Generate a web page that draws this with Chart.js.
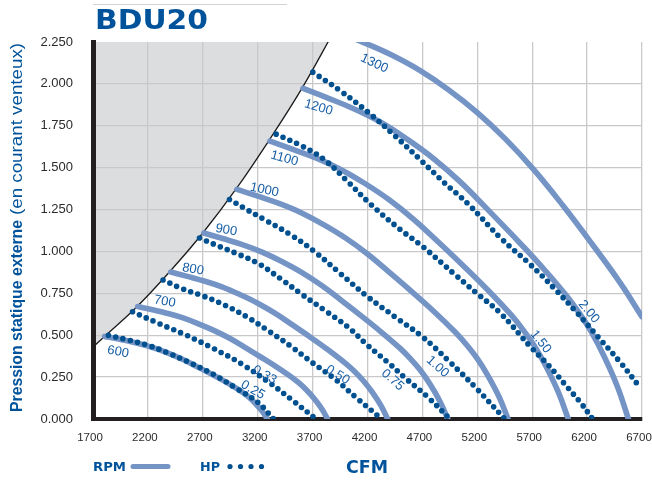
<!DOCTYPE html>
<html>
<head>
<meta charset="utf-8">
<script src="https://cdn.jsdelivr.net/npm/chart.js@4/dist/chart.umd.min.js"></script>
<style>
  html, body { margin: 0; padding: 0; background: #ffffff; }
  #wrap { position: relative; width: 652px; height: 480px; }
  canvas { display: block; }
</style>
</head>
<body>
<div id="wrap"><canvas id="chart" width="652" height="480"></canvas></div>
<script>
// Axis ticks
const cfmTicks = [1700, 2200, 2700, 3200, 3700, 4200, 4700, 5200, 5700, 6200, 6700];
const pressureTicks = [0, 0.25, 0.5, 0.75, 1.0, 1.25, 1.5, 1.75, 2.0, 2.25];

// Operating limit (shaded zone above it)
const limitCurve = [[1700,0.43],[1800,0.49],[2100,0.67],[2400,0.88],[2700,1.11],[3000,1.37],[3300,1.66],[3600,1.97],[3900,2.32]];

// Fan speed curves (CFM, in. w.c.)
const rpmNames = ['600', '700', '800', '900', '1000', '1100', '1200', '1300'];
const rpm600  = [[1806,0.493],[1920,0.479],[2040,0.463],[2160,0.443],[2280,0.418],[2400,0.389],[2520,0.355],[2640,0.315],[2760,0.274],[2880,0.232],[3000,0.186],[3060,0.160],[3120,0.130],[3180,0.092],[3240,0.047],[3288,0]];
const rpm700  = [[2107,0.671],[2240,0.652],[2380,0.630],[2520,0.603],[2660,0.568],[2800,0.529],[2940,0.483],[3080,0.429],[3220,0.373],[3360,0.316],[3500,0.254],[3570,0.218],[3640,0.176],[3710,0.125],[3780,0.064],[3836,0]];
const rpm800  = [[2408,0.877],[2560,0.851],[2720,0.822],[2880,0.787],[3040,0.742],[3200,0.691],[3360,0.630],[3520,0.560],[3680,0.488],[3840,0.413],[4000,0.332],[4080,0.285],[4160,0.230],[4240,0.163],[4320,0.083],[4384,0]];
const rpm900  = [[2709,1.110],[2880,1.077],[3060,1.041],[3240,0.996],[3420,0.940],[3600,0.875],[3780,0.798],[3960,0.709],[4140,0.617],[4320,0.522],[4500,0.420],[4590,0.360],[4680,0.292],[4770,0.207],[4860,0.105],[4932,0]];
const rpm1000 = [[3010,1.370],[3200,1.330],[3400,1.285],[3600,1.230],[3800,1.160],[4000,1.080],[4200,0.985],[4400,0.875],[4600,0.762],[4800,0.645],[5000,0.518],[5100,0.445],[5200,0.360],[5300,0.255],[5400,0.130],[5480,0]];
const rpm1100 = [[3311,1.658],[3520,1.609],[3740,1.555],[3960,1.488],[4180,1.404],[4400,1.307],[4620,1.192],[4840,1.059],[5060,0.922],[5280,0.780],[5500,0.627],[5610,0.538],[5720,0.436],[5830,0.309],[5940,0.157],[6028,0]];
const rpm1200 = [[3612,1.973],[3840,1.915],[4080,1.850],[4320,1.771],[4560,1.670],[4800,1.555],[5040,1.418],[5280,1.260],[5520,1.097],[5760,0.929],[6000,0.746],[6120,0.641],[6240,0.518],[6360,0.367],[6480,0.187],[6576,0]];
const rpm1300 = [[3913,2.315],[4160,2.248],[4420,2.172],[4680,2.079],[4940,1.964],[5200,1.829],[5460,1.669],[5720,1.484],[5980,1.274],[6240,1.049],[6500,0.814],[6700,0.61]];

// Brake horsepower curves
const hpNames = ['0.25', '0.33', '0.50', '0.75', '1.00', '1.50', '2.00'];
const hp025 = [[1840,0.50],[2000,0.475],[2200,0.44],[2400,0.39],[2600,0.33],[2800,0.265],[3000,0.185],[3200,0.10],[3345,0]];
const hp033 = [[2060,0.64],[2300,0.57],[2550,0.50],[2800,0.42],[3050,0.33],[3300,0.22],[3500,0.12],[3730,0]];
const hp050 = [[2338,0.83],[2504,0.78],[2700,0.735],[2900,0.68],[3100,0.61],[3300,0.525],[3500,0.435],[3700,0.335],[3900,0.24],[4111,0.12],[4330,0]];
const hp075 = [[2670,1.08],[2850,1.03],[3000,0.99],[3200,0.93],[3413,0.835],[3600,0.745],[3807,0.65],[4020,0.55],[4201,0.44],[4400,0.33],[4534,0.25],[4750,0.13],[4950,0]];
const hp100 = [[2943,1.31],[3100,1.25],[3262,1.19],[3500,1.10],[3716,1.00],[3950,0.87],[4201,0.73],[4450,0.61],[4701,0.49],[4950,0.34],[5196,0.18],[5450,0]];
const hp150 = [[3368,1.70],[3600,1.63],[3802,1.55],[4000,1.43],[4232,1.28],[4500,1.13],[4701,1.03],[5000,0.86],[5196,0.75],[5413,0.63],[5686,0.43],[5850,0.32],[6020,0.19],[6150,0.09],[6250,0]];
const hp200 = [[3702,2.07],[3950,1.96],[4207,1.83],[4450,1.69],[4701,1.535],[4900,1.41],[5111,1.287],[5413,1.08],[5686,0.92],[5900,0.78],[6100,0.64],[6300,0.49],[6500,0.34],[6680,0.19]];

const rpmSeries = [rpm600, rpm700, rpm800, rpm900, rpm1000, rpm1100, rpm1200, rpm1300];
const hpSeries = [hp025, hp033, hp050, hp075, hp100, hp150, hp200];

// Where each curve name is written (CFM, pressure) and its slant in degrees
const curveTags = [
  { text: '600',  at: [1929, 0.40],  angle: 10 },
  { text: '700',  at: [2353, 0.70],  angle: 10 },
  { text: '800',  at: [2611, 0.893], angle: 10 },
  { text: '900',  at: [2914, 1.128], angle: 10 },
  { text: '1000', at: [3262, 1.366], angle: 12 },
  { text: '1100', at: [3444, 1.555], angle: 15 },
  { text: '1200', at: [3754, 1.859], angle: 16 },
  { text: '1300', at: [4262, 2.122], angle: 25 },
  { text: '0.25', at: [3156, 0.173], angle: 30 },
  { text: '0.33', at: [3262, 0.263], angle: 30 },
  { text: '0.50', at: [3929, 0.263], angle: 32 },
  { text: '0.75', at: [4429, 0.233], angle: 42 },
  { text: '1.00', at: [4838, 0.312], angle: 42 },
  { text: '1.50', at: [5777, 0.461], angle: 52 },
  { text: '2.00', at: [6216, 0.640], angle: 50 }
];

const BRAND = '#00539b';
const RPM_COLOR = '#7594c6';
const HP_COLOR = '#00508f';
const TAG_COLOR = '#165ea6';
const GRID = '#c9c9cb';

const toXY = pts => pts.map(p => ({ x: p[0], y: p[1] }));

const datasets = [];
datasets.push({
  label: 'limite',
  data: toXY(limitCurve),
  borderColor: '#1b1b1b',
  borderWidth: 1.3,
  backgroundColor: '#dcdddf',
  fill: 'end',
  pointRadius: 0,
  tension: 0.4,
  order: 3
});
rpmSeries.forEach((pts, i) => datasets.push({
  label: rpmNames[i] + ' RPM',
  data: toXY(pts),
  borderColor: RPM_COLOR,
  borderWidth: 5.6,
  borderCapStyle: 'round',
  borderJoinStyle: 'round',
  pointRadius: 0,
  fill: false,
  tension: 0.4,
  order: 2
}));
hpSeries.forEach((pts, i) => datasets.push({
  label: hpNames[i] + ' HP',
  data: toXY(pts),
  borderColor: HP_COLOR,
  borderWidth: 5.6,
  borderDash: [0, 7.5],
  borderCapStyle: 'round',
  pointRadius: 0,
  fill: false,
  tension: 0.4,
  order: 1
}));

// Write text horizontally stretched to a given width
function stretchText(ctx, text, x, y, font, width) {
  ctx.font = font;
  const w = ctx.measureText(text).width;
  ctx.save();
  ctx.translate(x, y);
  ctx.scale(width / w, 1);
  ctx.textAlign = 'left';
  ctx.fillText(text, 0, 0);
  ctx.restore();
}

const decorations = {
  id: 'decorations',
  afterDatasetsDraw(chart) {
    const { ctx } = chart;
    const xs = chart.scales.x, ys = chart.scales.y;
    ctx.save();
    ctx.fillStyle = TAG_COLOR;
    ctx.font = '13px "Liberation Sans", Arial, sans-serif';
    ctx.textAlign = 'center';
    ctx.textBaseline = 'middle';
    curveTags.forEach(t => {
      const px = xs.getPixelForValue(t.at[0]);
      const py = ys.getPixelForValue(t.at[1]);
      ctx.save();
      ctx.translate(px, py);
      ctx.rotate(t.angle * Math.PI / 180);
      ctx.fillText(t.text, 0, 0);
      ctx.restore();
    });
    ctx.restore();
  },
  afterDraw(chart) {
    const { ctx } = chart;
    ctx.save();
    // heading
    ctx.strokeStyle = '#d3d3d3';
    ctx.lineWidth = 1;
    ctx.beginPath();
    ctx.moveTo(93, 4.5);
    ctx.lineTo(287, 4.5);
    ctx.stroke();
    ctx.fillStyle = BRAND;
    ctx.textBaseline = 'alphabetic';
    stretchText(ctx, 'BDU20', 95, 29, 'bold 26px "DejaVu Sans", sans-serif', 113);

    // vertical axis title
    ctx.save();
    ctx.translate(21.5, 412);
    ctx.rotate(-Math.PI / 2);
    stretchText(ctx, 'Pression statique externe', 0, 0, 'bold 16px "Liberation Sans", Arial, sans-serif', 192);
    stretchText(ctx, '(en courant venteux)', 197, 0, '16px "Liberation Sans", Arial, sans-serif', 172);
    ctx.restore();

    // key
    stretchText(ctx, 'RPM', 93, 471, 'bold 12px "DejaVu Sans", sans-serif', 33);
    ctx.strokeStyle = RPM_COLOR;
    ctx.lineWidth = 5;
    ctx.lineCap = 'round';
    ctx.beginPath();
    ctx.moveTo(133, 466.5);
    ctx.lineTo(168, 466.5);
    ctx.stroke();
    stretchText(ctx, 'HP', 200, 471, 'bold 12px "DejaVu Sans", sans-serif', 20);
    ctx.fillStyle = HP_COLOR;
    [230, 240.5, 251, 261.5].forEach(cx => {
      ctx.beginPath();
      ctx.arc(cx, 466.5, 2.6, 0, Math.PI * 2);
      ctx.fill();
    });
    ctx.fillStyle = BRAND;
    stretchText(ctx, 'CFM', 346, 473, 'bold 17px "DejaVu Sans", sans-serif', 42);
    ctx.restore();
  }
};

new Chart(document.getElementById('chart'), {
  type: 'line',
  data: { datasets },
  plugins: [decorations],
  options: {
    responsive: false,
    devicePixelRatio: 1,
    animation: false,
    layout: { padding: { top: 42, right: 10, bottom: 0, left: 0 } },
    plugins: {
      legend: { display: false },
      tooltip: { enabled: false },
      title: { display: false },
      filler: { drawTime: 'beforeDraw' }
    },
    scales: {
      x: {
        type: 'linear',
        min: cfmTicks[0],
        max: cfmTicks[cfmTicks.length - 1],
        afterBuildTicks: s => { s.ticks = cfmTicks.map(v => ({ value: v })); },
        afterFit: s => { s.height = 61; s.paddingLeft = 0; s.paddingRight = 0; },
        grid: { color: GRID, lineWidth: 1.3, drawTicks: false },
        border: { display: true, color: '#231f20', width: 4 },
        ticks: {
          color: '#2b2b2b',
          font: { family: '"Liberation Sans", Arial, sans-serif', size: 11.5 },
          padding: 12,
          labelOffset: -3,
          maxRotation: 0,
          autoSkip: false,
          callback: v => String(v)
        }
      },
      y: {
        type: 'linear',
        min: pressureTicks[0],
        max: pressureTicks[pressureTicks.length - 1],
        afterBuildTicks: s => { s.ticks = pressureTicks.map(v => ({ value: v })); },
        afterFit: s => { s.width = 93; s.paddingTop = 0; s.paddingBottom = 0; },
        grid: {
          color: c => (c.tick && c.tick.value === 2.25 ? 'rgba(0,0,0,0)' : GRID),
          lineWidth: 1.3,
          drawTicks: false
        },
        border: { display: true, color: '#231f20', width: 5 },
        ticks: {
          color: '#2b2b2b',
          font: { family: '"Liberation Sans", Arial, sans-serif', size: 13 },
          padding: 20,
          autoSkip: false,
          callback: v => v.toFixed(3)
        }
      }
    }
  }
});
</script>
</body>
</html>
